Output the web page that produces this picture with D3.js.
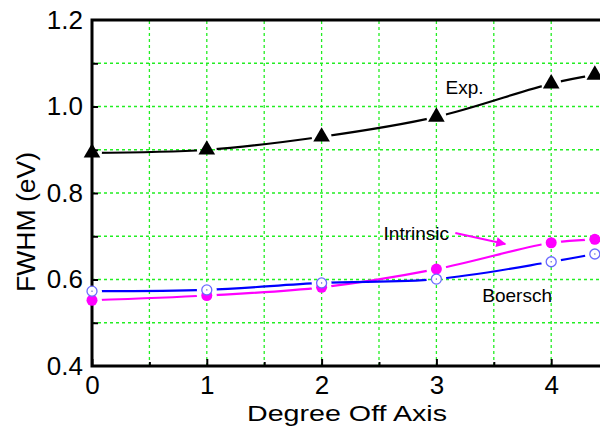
<!DOCTYPE html>
<html>
<head>
<meta charset="utf-8">
<script src="https://cdn.jsdelivr.net/npm/d3@7"></script>
<style>
  body { margin: 0; background: #fff; }
  svg { display: block; font-family: "Liberation Sans", Arial, sans-serif; }
</style>
</head>
<body>
<div id="chart"></div>
<script>
// degrees off axis
const degrees = [0, 1, 2, 3, 4, 4.38];
const expFwhm = [0.893, 0.900, 0.930, 0.976, 1.053, 1.073];
const intrinsicFwhm = [0.552, 0.563, 0.582, 0.624, 0.685, 0.693];
const boerschFwhm = [0.573, 0.576, 0.592, 0.601, 0.641, 0.659];

const xTickLabels = [0, 1, 2, 3, 4];
const yTickLabels = [0.4, 0.6, 0.8, 1.0, 1.2];

const W = 600, H = 437;
const margin = { top: 20, left: 92, bottom: 71 };

const svg = d3.select("#chart").append("svg")
  .attr("width", W).attr("height", H);

const x = d3.scaleLinear().domain([0, 4.5]).range([margin.left, margin.left + 4.5 * 114.8]);
const y = d3.scaleLinear().domain([0.4, 1.2]).range([H - margin.bottom, margin.top]);

// grid
const gridColor = "#22ee22";
const xGrid = d3.range(0.5, 4.51, 0.5);
const yGrid = d3.range(0.5, 1.15, 0.1);
svg.append("g").selectAll("line").data(xGrid).join("line")
  .attr("x1", d => x(d)).attr("x2", d => x(d))
  .attr("y1", y(0.4)).attr("y2", y(1.2))
  .attr("stroke", gridColor).attr("stroke-width", 1.3)
  .attr("stroke-dasharray", "3,3");
svg.append("g").selectAll("line").data(yGrid).join("line")
  .attr("x1", x(0)).attr("x2", W)
  .attr("y1", d => y(d)).attr("y2", d => y(d))
  .attr("stroke", gridColor).attr("stroke-width", 1.3)
  .attr("stroke-dasharray", "3,3");

// axes
svg.append("g").attr("transform", `translate(0,${y(0.4)})`)
  .call(d3.axisBottom(x).tickValues(xTickLabels).tickSizeInner(-7).tickSizeOuter(0)
    .tickPadding(10).tickFormat(d3.format("d")));
svg.append("g").attr("transform", `translate(0,${y(0.4)})`)
  .call(d3.axisBottom(x).tickValues([0.5, 1.5, 2.5, 3.5]).tickSizeInner(-4).tickSizeOuter(0).tickFormat(""));
svg.append("g").attr("transform", `translate(${x(0)},0)`)
  .call(d3.axisLeft(y).tickValues(d3.range(0.5, 1.15, 0.1)).tickSizeInner(-6).tickSizeOuter(0).tickFormat(""));
svg.append("g").attr("transform", `translate(${x(0)},0)`)
  .call(d3.axisLeft(y).tickValues(yTickLabels).tickSizeInner(0).tickSizeOuter(0)
    .tickPadding(9).tickFormat(d3.format(".1f")));

svg.selectAll(".domain").remove();
svg.selectAll(".tick line").attr("stroke", "#000").attr("stroke-width", 2);
svg.selectAll(".tick text").attr("font-size", 26).attr("fill", "#000")
  .attr("font-family", "'Liberation Sans', Arial, sans-serif");

// frame
svg.append("path")
  .attr("d", `M${W},${y(1.2)}H${x(0)}V${y(0.4)}H${W}`)
  .attr("fill", "none").attr("stroke", "#000").attr("stroke-width", 3);

// series
const series = [
  { name: "exp", values: expFwhm, line: "#000", marker: "triangle" },
  { name: "intrinsic", values: intrinsicFwhm, line: "#ff00ff", marker: "dot" },
  { name: "boersch", values: boerschFwhm, line: "#0000ff", marker: "ring" },
];

const defs = svg.append("defs");
const lineGen = d3.line().curve(d3.curveCatmullRom.alpha(0.5))
  .x(d => x(d[0])).y(d => y(d[1]));

series.forEach(s => {
  const pts = degrees.map((d, i) => [d, s.values[i]]);
  const mask = defs.append("mask").attr("id", "gap-" + s.name)
    .attr("maskUnits", "userSpaceOnUse").attr("x", 0).attr("y", 0).attr("width", W).attr("height", H);
  mask.append("rect").attr("width", W).attr("height", H).attr("fill", "#fff");
  mask.selectAll("circle").data(pts).join("circle")
    .attr("cx", d => x(d[0])).attr("cy", d => y(d[1])).attr("r", 10).attr("fill", "#000");

  svg.append("path").datum(pts)
    .attr("d", lineGen)
    .attr("fill", "none").attr("stroke", s.line).attr("stroke-width", 2.2)
    .attr("mask", `url(#gap-${s.name})`);

  const g = svg.append("g");
  if (s.marker === "triangle") {
    g.selectAll("path").data(pts).join("path")
      .attr("d", d3.symbol(d3.symbolTriangle, 120))
      .attr("transform", d => `translate(${x(d[0])},${y(d[1])})`)
      .attr("fill", "#000");
  } else if (s.marker === "dot") {
    g.selectAll("circle").data(pts).join("circle")
      .attr("cx", d => x(d[0])).attr("cy", d => y(d[1])).attr("r", 5.5)
      .attr("fill", "#ff00ff");
  } else {
    g.selectAll("circle").data(pts).join("circle")
      .attr("cx", d => x(d[0])).attr("cy", d => y(d[1])).attr("r", 5)
      .attr("fill", "#fff").attr("stroke", "#6a6aff").attr("stroke-width", 1.3);
    g.selectAll("rect").data(pts).join("rect")
      .attr("x", d => x(d[0]) - 0.6).attr("y", d => y(d[1]) - 0.6)
      .attr("width", 1.2).attr("height", 1.2).attr("fill", "#5555cc");
  }
});

// annotations
const ann = svg.append("g").attr("font-size", 19).attr("fill", "#000");
ann.append("text").attr("x", x(3.08)).attr("y", y(1.045)).attr("dy", "0.35em").text("Exp.");
ann.append("text").attr("x", x(2.54)).attr("y", y(0.707)).attr("dy", "0.35em").text("Intrinsic");
ann.append("text").attr("x", x(3.4)).attr("y", y(0.564)).attr("dy", "0.35em").text("Boersch");

defs.append("marker").attr("id", "arrow").attr("viewBox", "0 0 10 10")
  .attr("refX", 9).attr("refY", 5).attr("markerWidth", 6).attr("markerHeight", 5)
  .attr("markerUnits", "strokeWidth").attr("orient", "auto")
  .append("path").attr("d", "M0,0L10,5L0,10Z").attr("fill", "#ff00ff");
svg.append("line")
  .attr("x1", x(3.165)).attr("y1", y(0.7075))
  .attr("x2", x(3.6)).attr("y2", y(0.682))
  .attr("stroke", "#ff00ff").attr("stroke-width", 2)
  .attr("marker-end", "url(#arrow)");

// axis titles
svg.append("text").attr("x", 347).attr("y", H - 16)
  .attr("text-anchor", "middle").attr("font-size", 22)
  .attr("textLength", 200).attr("lengthAdjust", "spacingAndGlyphs")
  .text("Degree Off Axis");
svg.append("text").attr("transform", `translate(35,222) rotate(-90)`)
  .attr("text-anchor", "middle").attr("font-size", 26)
  .attr("textLength", 140).attr("lengthAdjust", "spacingAndGlyphs")
  .text("FWHM (eV)");
</script>
</body>
</html>
